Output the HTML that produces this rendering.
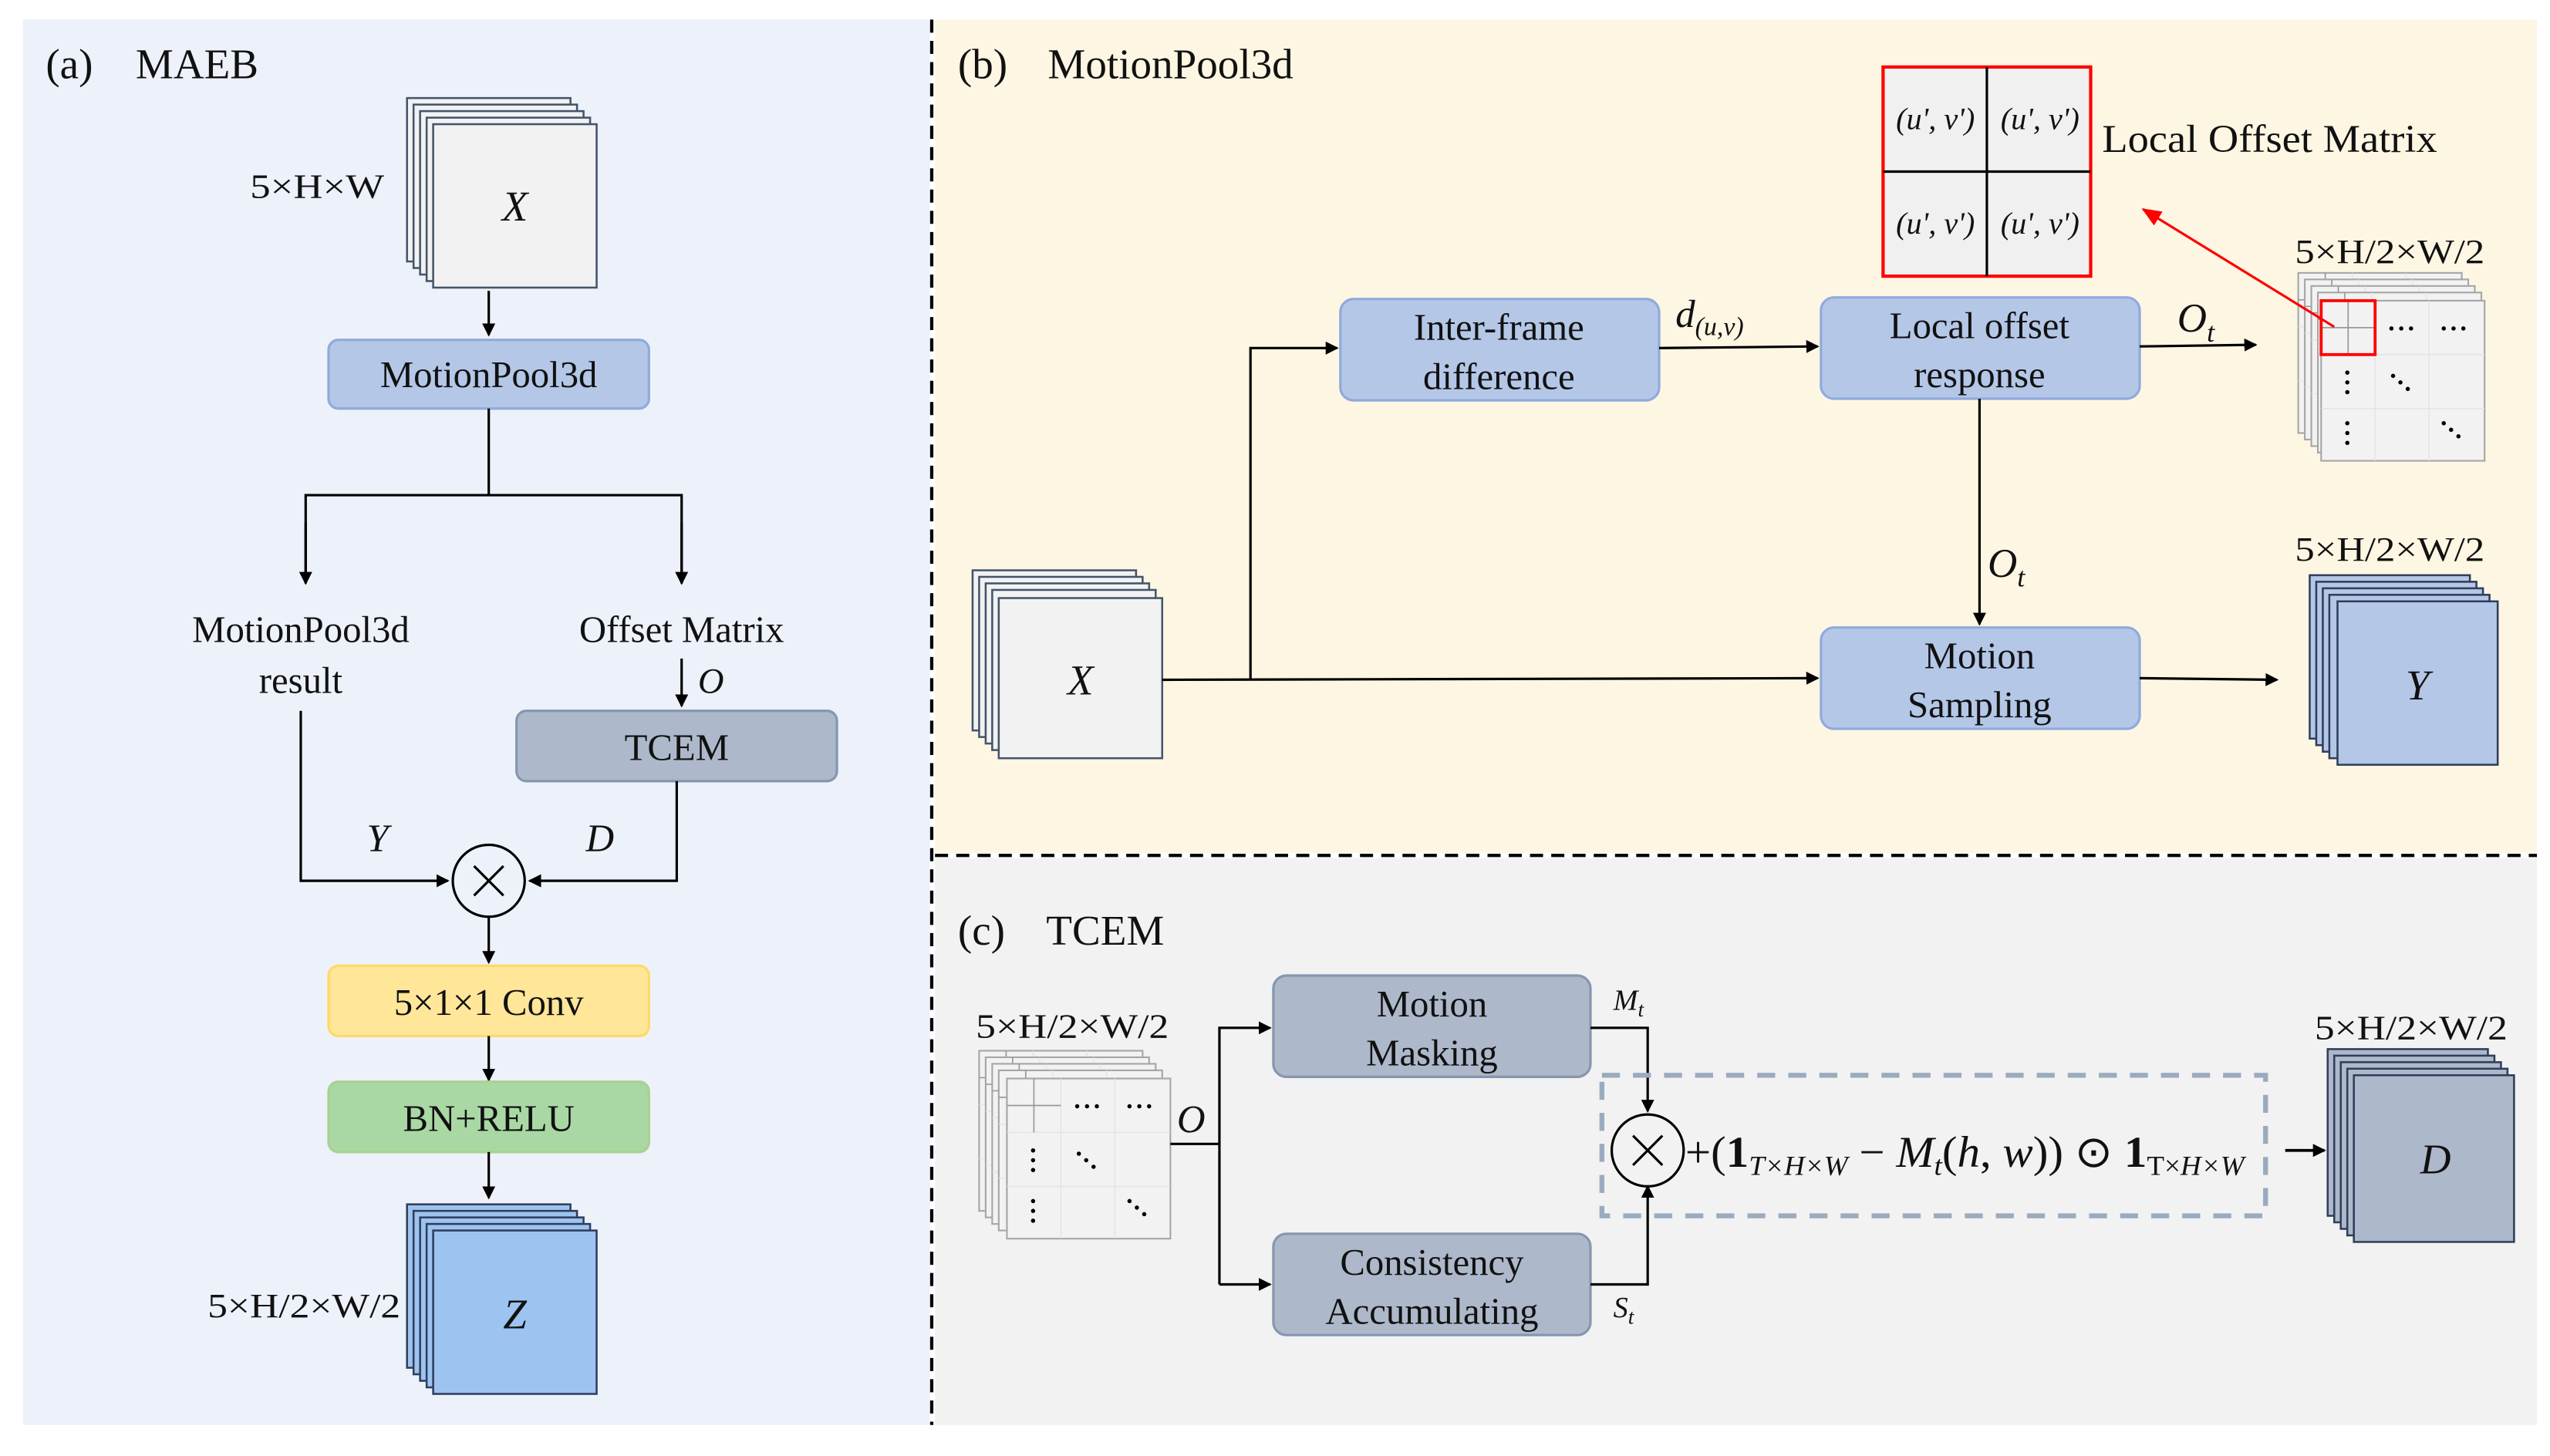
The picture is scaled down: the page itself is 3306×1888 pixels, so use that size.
<!DOCTYPE html>
<html><head><meta charset="utf-8"><style>
html,body{margin:0;padding:0;background:#fff}
svg{display:block}
text{font-family:"Liberation Serif",serif;fill:#111}
.i{font-style:italic}
</style></head><body>
<svg width="3306" height="1888" viewBox="0 0 1560 891" preserveAspectRatio="none" xmlns="http://www.w3.org/2000/svg">
<defs>
<marker id="ah" markerWidth="8" markerHeight="8" refX="7" refY="4" orient="auto" markerUnits="userSpaceOnUse"><path d="M0,0 L8,4 L0,8 z" fill="#000"/></marker>
<marker id="ahr" markerWidth="12" markerHeight="10" refX="11" refY="5" orient="auto" markerUnits="userSpaceOnUse"><path d="M0,0 L12,5 L0,10 z" fill="#f00"/></marker>
<g id="om">
<rect x="0" y="0" width="100" height="98" fill="#f2f2f2" stroke="#a6a6a6" stroke-width="1"/>
<line x1="33" y1="0" x2="33" y2="98" stroke="#e2e2e2" stroke-width="0.6"/>
<line x1="0" y1="33" x2="100" y2="33" stroke="#e2e2e2" stroke-width="0.6"/>
<line x1="66" y1="0" x2="66" y2="98" stroke="#e2e2e2" stroke-width="0.6"/>
<line x1="0" y1="66" x2="100" y2="66" stroke="#e2e2e2" stroke-width="0.6"/>
<line x1="16.5" y1="0" x2="16.5" y2="33" stroke="#999" stroke-width="0.8"/>
<line x1="0" y1="16.5" x2="33" y2="16.5" stroke="#999" stroke-width="0.8"/>
<g fill="#000">
<circle cx="43" cy="17" r="1.3"/><circle cx="49" cy="17" r="1.3"/><circle cx="55" cy="17" r="1.3"/>
<circle cx="75" cy="17" r="1.3"/><circle cx="81" cy="17" r="1.3"/><circle cx="87" cy="17" r="1.3"/>
<circle cx="16" cy="44" r="1.3"/><circle cx="16" cy="50" r="1.3"/><circle cx="16" cy="56" r="1.3"/>
<circle cx="16" cy="75" r="1.3"/><circle cx="16" cy="81" r="1.3"/><circle cx="16" cy="87" r="1.3"/>
<circle cx="44" cy="46" r="1.3"/><circle cx="48.5" cy="50" r="1.3"/><circle cx="53" cy="54" r="1.3"/>
<circle cx="75" cy="75" r="1.3"/><circle cx="79.5" cy="79" r="1.3"/><circle cx="84" cy="83" r="1.3"/>
</g>
</g>
</defs>

<rect x="14" y="12" width="555" height="860" fill="#edf1fa"/>
<rect x="572" y="12" width="980" height="510" fill="#fdf6e3"/>
<rect x="572" y="525" width="980" height="347" fill="#f2f2f2"/>
<line x1="570" y1="12" x2="570" y2="872" stroke="#000" stroke-width="2" stroke-dasharray="8,5"/>
<line x1="572" y1="523.5" x2="1552" y2="523.5" stroke="#000" stroke-width="2" stroke-dasharray="8,5"/>

<!-- Panel a -->
<text x="28" y="48" font-size="26">(a)</text><text x="83" y="48" font-size="26">MAEB</text>
<g fill="#f2f2f2" stroke="#44546a" stroke-width="1.2">
<rect x="249" y="60" width="100" height="100"/><rect x="253" y="64" width="100" height="100"/><rect x="257" y="68" width="100" height="100"/><rect x="261" y="72" width="100" height="100"/><rect x="265" y="76" width="100" height="100"/>
</g>
<text x="315" y="135" font-size="26" class="i" text-anchor="middle">X</text>
<text x="153" y="121" font-size="21" textLength="82" lengthAdjust="spacingAndGlyphs">5×H×W</text>
<line x1="299" y1="178" x2="299" y2="205" stroke="#000" stroke-width="1.5" marker-end="url(#ah)"/>
<rect x="201" y="208" width="196" height="42" rx="6" fill="#b4c7e7" stroke="#8faadc" stroke-width="1.5"/>
<text x="299" y="237" font-size="23" text-anchor="middle">MotionPool3d</text>
<polyline points="299,250 299,303" fill="none" stroke="#000" stroke-width="1.5"/>
<polyline points="187,357 187,303 417,303 417,357" fill="none" stroke="#000" stroke-width="1.5"/>
<line x1="187" y1="320" x2="187" y2="357" stroke="#000" stroke-width="1.5" marker-end="url(#ah)"/>
<line x1="417" y1="320" x2="417" y2="357" stroke="#000" stroke-width="1.5" marker-end="url(#ah)"/>
<text x="184" y="393" font-size="23" text-anchor="middle">MotionPool3d</text>
<text x="184" y="424" font-size="23" text-anchor="middle">result</text>
<text x="417" y="393" font-size="23" text-anchor="middle">Offset Matrix</text>
<line x1="417" y1="403" x2="417" y2="432" stroke="#000" stroke-width="1.5" marker-end="url(#ah)"/>
<text x="427" y="424" font-size="22" class="i">O</text>
<rect x="316" y="435" width="196" height="43" rx="6" fill="#adb9ca" stroke="#8497b0" stroke-width="1.5"/>
<text x="414" y="465" font-size="23" text-anchor="middle">TCEM</text>
<polyline points="184,435 184,539 274,539" fill="none" stroke="#000" stroke-width="1.5" marker-end="url(#ah)"/>
<polyline points="414,478 414,539 324,539" fill="none" stroke="#000" stroke-width="1.5" marker-end="url(#ah)"/>
<text x="231" y="521" font-size="24" class="i" text-anchor="middle">Y</text>
<text x="367" y="521" font-size="24" class="i" text-anchor="middle">D</text>
<circle cx="299" cy="539" r="22" fill="none" stroke="#000" stroke-width="1.5"/>
<path d="M290,530 L308,548 M308,530 L290,548" stroke="#000" stroke-width="1.5"/>
<line x1="299" y1="561" x2="299" y2="589" stroke="#000" stroke-width="1.5" marker-end="url(#ah)"/>
<rect x="201" y="591" width="196" height="43" rx="6" fill="#ffe699" stroke="#ffd966" stroke-width="1.5"/>
<text x="299" y="621" font-size="23" text-anchor="middle">5×1×1 Conv</text>
<line x1="299" y1="634" x2="299" y2="661" stroke="#000" stroke-width="1.5" marker-end="url(#ah)"/>
<rect x="201" y="662" width="196" height="43" rx="6" fill="#a9d8a4" stroke="#a9d18e" stroke-width="1.5"/>
<text x="299" y="692" font-size="23" text-anchor="middle">BN+RELU</text>
<line x1="299" y1="705" x2="299" y2="733" stroke="#000" stroke-width="1.5" marker-end="url(#ah)"/>
<g fill="#9dc3f0" stroke="#2f3e5a" stroke-width="1.2">
<rect x="249" y="737" width="100" height="100"/><rect x="253" y="741" width="100" height="100"/><rect x="257" y="745" width="100" height="100"/><rect x="261" y="749" width="100" height="100"/><rect x="265" y="753" width="100" height="100"/>
</g>
<text x="315" y="813" font-size="26" class="i" text-anchor="middle">Z</text>
<text x="127" y="806" font-size="21" textLength="118" lengthAdjust="spacingAndGlyphs">5×H/2×W/2</text>

<!-- Panel b -->
<text x="586" y="48" font-size="26">(b)</text><text x="641" y="48" font-size="26">MotionPool3d</text>
<rect x="1152" y="41" width="127" height="128" fill="#f0f0f0" stroke="#f00" stroke-width="2"/>
<line x1="1215.5" y1="41" x2="1215.5" y2="169" stroke="#000" stroke-width="1.5"/>
<line x1="1152" y1="105" x2="1279" y2="105" stroke="#000" stroke-width="1.5"/>
<text x="1184" y="79" font-size="19" class="i" text-anchor="middle">(u', v')</text>
<text x="1248" y="79" font-size="19" class="i" text-anchor="middle">(u', v')</text>
<text x="1184" y="143" font-size="19" class="i" text-anchor="middle">(u', v')</text>
<text x="1248" y="143" font-size="19" class="i" text-anchor="middle">(u', v')</text>
<text x="1286" y="93" font-size="24" textLength="205" lengthAdjust="spacingAndGlyphs">Local Offset Matrix</text>

<g fill="#f2f2f2" stroke="#44546a" stroke-width="1.2">
<rect x="595" y="349" width="100" height="98"/><rect x="599" y="353" width="100" height="98"/><rect x="603" y="357" width="100" height="98"/><rect x="607" y="361" width="100" height="98"/><rect x="611" y="366" width="100" height="98"/>
</g>
<text x="661" y="425" font-size="26" class="i" text-anchor="middle">X</text>

<rect x="820" y="183" width="195" height="62" rx="8" fill="#b4c7e7" stroke="#8faadc" stroke-width="1.5"/>
<text x="917" y="208" font-size="23" text-anchor="middle">Inter-frame</text>
<text x="917" y="238" font-size="23" text-anchor="middle">difference</text>
<rect x="1114" y="182" width="195" height="62" rx="8" fill="#b4c7e7" stroke="#8faadc" stroke-width="1.5"/>
<text x="1211" y="207" font-size="23" text-anchor="middle">Local offset</text>
<text x="1211" y="237" font-size="23" text-anchor="middle">response</text>
<rect x="1114" y="384" width="195" height="62" rx="8" fill="#b4c7e7" stroke="#8faadc" stroke-width="1.5"/>
<text x="1211" y="409" font-size="23" text-anchor="middle">Motion</text>
<text x="1211" y="439" font-size="23" text-anchor="middle">Sampling</text>

<line x1="711" y1="416" x2="1112" y2="415" stroke="#000" stroke-width="1.5" marker-end="url(#ah)"/>
<polyline points="765,416 765,213 818,213" fill="none" stroke="#000" stroke-width="1.5" marker-end="url(#ah)"/>
<line x1="1015" y1="213" x2="1112" y2="212" stroke="#000" stroke-width="1.5" marker-end="url(#ah)"/>
<text x="1025" y="200" font-size="24" class="i">d<tspan font-size="16" dy="5">(u,v)</tspan></text>
<line x1="1309" y1="212" x2="1380" y2="211" stroke="#000" stroke-width="1.5" marker-end="url(#ah)"/>
<text x="1332" y="203" font-size="25" class="i">O<tspan font-size="17" dy="6">t</tspan></text>
<line x1="1211" y1="244" x2="1211" y2="382" stroke="#000" stroke-width="1.5" marker-end="url(#ah)"/>
<text x="1216" y="353" font-size="25" class="i">O<tspan font-size="17" dy="6">t</tspan></text>
<line x1="1309" y1="415" x2="1393" y2="416" stroke="#000" stroke-width="1.5" marker-end="url(#ah)"/>

<text x="1404" y="161" font-size="21" textLength="116" lengthAdjust="spacingAndGlyphs">5×H/2×W/2</text>
<use href="#om" x="1406" y="167"/><use href="#om" x="1410" y="171"/><use href="#om" x="1414" y="175"/><use href="#om" x="1418" y="179"/><use href="#om" x="1420" y="184"/>
<rect x="1420" y="184" width="33" height="33" fill="none" stroke="#f00" stroke-width="1.8"/>
<line x1="1428" y1="200" x2="1311" y2="128" stroke="#f00" stroke-width="1.5" marker-end="url(#ahr)"/>

<text x="1404" y="343" font-size="21" textLength="116" lengthAdjust="spacingAndGlyphs">5×H/2×W/2</text>
<g fill="#b4c7e7" stroke="#2f3e5a" stroke-width="1.2">
<rect x="1413" y="352" width="98" height="100"/><rect x="1417" y="356" width="98" height="100"/><rect x="1421" y="360" width="98" height="100"/><rect x="1425" y="364" width="98" height="100"/><rect x="1430" y="368" width="98" height="100"/>
</g>
<text x="1479" y="428" font-size="26" class="i" text-anchor="middle">Y</text>

<!-- Panel c -->
<text x="586" y="578" font-size="26">(c)</text><text x="640" y="578" font-size="26">TCEM</text>
<text x="597" y="635" font-size="21" textLength="118" lengthAdjust="spacingAndGlyphs">5×H/2×W/2</text>
<use href="#om" x="599" y="643"/>
<use href="#om" x="603" y="647"/><use href="#om" x="607" y="651"/><use href="#om" x="611" y="655"/><use href="#om" x="616" y="660"/>
<text x="720" y="693" font-size="24" class="i">O</text>
<line x1="716" y1="700" x2="746" y2="700" stroke="#000" stroke-width="1.5"/>
<polyline points="746,786 746,629 777,629" fill="none" stroke="#000" stroke-width="1.5" marker-end="url(#ah)"/>
<polyline points="746,786 777,786" fill="none" stroke="#000" stroke-width="1.5" marker-end="url(#ah)"/>
<rect x="779" y="597" width="194" height="62" rx="8" fill="#adb9ca" stroke="#8497b0" stroke-width="1.5"/>
<text x="876" y="622" font-size="23" text-anchor="middle">Motion</text>
<text x="876" y="652" font-size="23" text-anchor="middle">Masking</text>
<rect x="779" y="755" width="194" height="62" rx="8" fill="#adb9ca" stroke="#8497b0" stroke-width="1.5"/>
<text x="876" y="780" font-size="23" text-anchor="middle">Consistency</text>
<text x="876" y="810" font-size="23" text-anchor="middle">Accumulating</text>
<polyline points="973,629 1008,629 1008,680" fill="none" stroke="#000" stroke-width="1.5" marker-end="url(#ah)"/>
<polyline points="973,786 1008,786 1008,726" fill="none" stroke="#000" stroke-width="1.5" marker-end="url(#ah)"/>
<text x="987" y="618" font-size="18" class="i">M<tspan font-size="13" dy="4">t</tspan></text>
<text x="987" y="806" font-size="18" class="i">S<tspan font-size="13" dy="4">t</tspan></text>
<rect x="980" y="658" width="406" height="86" fill="none" stroke="#9aabbf" stroke-width="3" stroke-dasharray="11,8"/>
<circle cx="1008" cy="704" r="22" fill="none" stroke="#000" stroke-width="1.5"/>
<path d="M999,695 L1017,713 M1017,695 L999,713" stroke="#000" stroke-width="1.5"/>
<text x="1031" y="714" font-size="27" textLength="342" lengthAdjust="spacingAndGlyphs">+(<tspan font-weight="bold">1</tspan><tspan class="i" font-size="17" dy="5">T×H×W</tspan><tspan dy="-5"> − </tspan><tspan class="i">M</tspan><tspan class="i" font-size="17" dy="5">t</tspan><tspan dy="-5">(</tspan><tspan class="i">h</tspan>, <tspan class="i">w</tspan>)) ⊙ <tspan font-weight="bold">1</tspan><tspan font-size="17" dy="5">T×</tspan><tspan class="i" font-size="17">H×W</tspan></text>
<line x1="1398" y1="704" x2="1422" y2="704" stroke="#000" stroke-width="1.8" marker-end="url(#ah)"/>
<text x="1416" y="636" font-size="21" textLength="118" lengthAdjust="spacingAndGlyphs">5×H/2×W/2</text>
<g fill="#adb9ca" stroke="#2f3e5a" stroke-width="1.2">
<rect x="1424" y="642" width="98" height="102"/><rect x="1428" y="646" width="98" height="102"/><rect x="1432" y="650" width="98" height="102"/><rect x="1436" y="654" width="98" height="102"/><rect x="1440" y="658" width="98" height="102"/>
</g>
<text x="1490" y="718" font-size="26" class="i" text-anchor="middle">D</text>
</svg>
</body></html>
